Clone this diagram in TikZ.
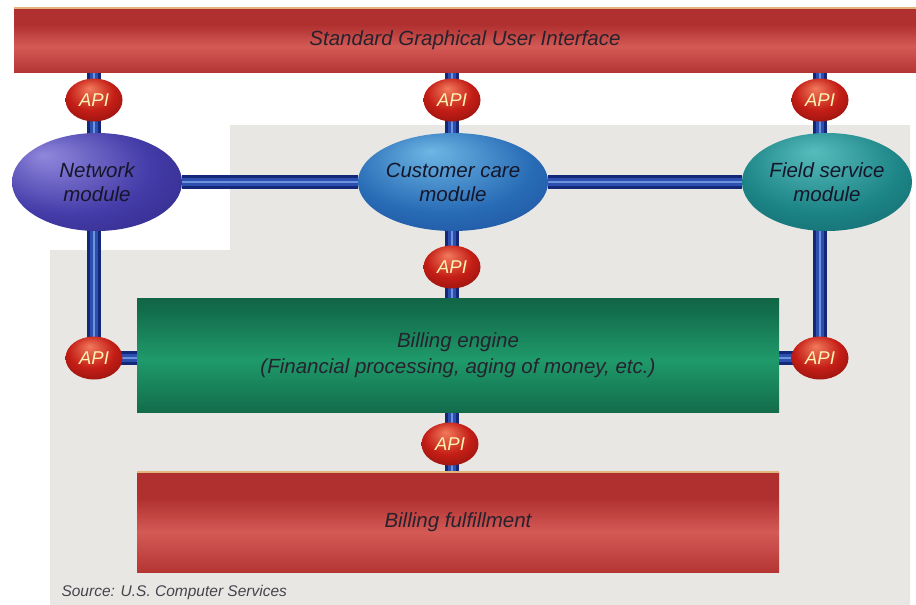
\documentclass[tikz,border=0pt]{standalone}
\usepackage{fontspec}
\setmainfont{Liberation Sans}
\usetikzlibrary{shapes.geometric,shadings}

% palette
\definecolor{paper}{HTML}{E9E7E4}
\definecolor{tubeDark}{HTML}{861C1C}
\definecolor{tubeMid}{HTML}{B0302F}
\definecolor{tubeLight}{HTML}{D45A56}
\definecolor{rim}{HTML}{E2B57A}
\definecolor{engDark}{HTML}{0A4A2E}
\definecolor{engMid}{HTML}{126C4C}
\definecolor{engLight}{HTML}{1F9A6A}
\definecolor{pipeDark}{HTML}{14287A}
\definecolor{pipeMid}{HTML}{2C4FB0}
\definecolor{pipeLite}{HTML}{6D93DC}
\definecolor{netLite}{HTML}{9088DC}
\definecolor{netBase}{HTML}{443CA8}
\definecolor{netDark}{HTML}{221C70}
\definecolor{custLite}{HTML}{6EB6E4}
\definecolor{custBase}{HTML}{286CB6}
\definecolor{custDark}{HTML}{18388A}
\definecolor{fieldLite}{HTML}{58BCBC}
\definecolor{fieldBase}{HTML}{1C8486}
\definecolor{fieldDark}{HTML}{0D5058}
\definecolor{apiLite}{HTML}{F27A5C}
\definecolor{apiBase}{HTML}{C41E16}
\definecolor{apiDark}{HTML}{6A0A08}
\definecolor{apiText}{HTML}{FFF4B0}
\definecolor{ink}{HTML}{26222E}
\definecolor{ovalInk}{HTML}{16162A}

% cylinder-like shadings
\pgfdeclareverticalshading{redtube}{100bp}{color(0bp)=(tubeDark); color(22bp)=(tubeMid); color(45bp)=(tubeLight); color(62bp)=(tubeMid); color(88bp)=(tubeMid); color(100bp)=(tubeDark)}
\pgfdeclareverticalshading{greentube}{100bp}{color(0bp)=(engDark); color(25bp)=(engMid); color(48bp)=(engLight); color(70bp)=(engMid); color(100bp)=(engDark)}
\pgfdeclareradialshading{netshade}{\pgfpoint{-16bp}{14bp}}{color(0bp)=(netLite); color(24bp)=(netBase); color(52bp)=(netDark)}
\pgfdeclareradialshading{custshade}{\pgfpoint{-6bp}{16bp}}{color(0bp)=(custLite); color(24bp)=(custBase); color(52bp)=(custDark)}
\pgfdeclareradialshading{fieldshade}{\pgfpoint{-4bp}{16bp}}{color(0bp)=(fieldLite); color(24bp)=(fieldBase); color(52bp)=(fieldDark)}
\pgfdeclareradialshading{apishade}{\pgfpoint{-4bp}{14bp}}{color(0bp)=(apiLite); color(20bp)=(apiBase); color(46bp)=(apiDark)}

\pgfdeclarelayer{back}
\pgfdeclarelayer{pipes}
\pgfsetlayers{back,pipes,main}

\tikzset{
  labelfont/.style={font=\fontsize{20.5}{24}\selectfont\itshape},
  redbar/.style={rectangle, shading=redtube, inner sep=0pt, text=ink, labelfont},
  greenbar/.style={rectangle, shading=greentube, inner sep=0pt, text=ink, align=center,
    font=\fontsize{20.5}{26}\selectfont\itshape},
  oval/.style={ellipse, minimum width=170pt, minimum height=98pt, inner sep=0pt,
    align=center, text=ovalInk, labelfont},
  api/.style={ellipse, shading=apishade, minimum width=57pt, minimum height=43pt,
    inner sep=0pt, text=apiText, font=\fontsize{18.5}{20}\selectfont\itshape},
  pipe/.style={line width=14pt, draw=pipeDark,
    postaction={draw=pipeMid, line width=8.5pt},
    postaction={draw=pipeLite, line width=2.5pt}},
  rimline/.style={draw=rim, line width=1.5pt},
  source/.style={anchor=west, text=ink!85, font=\fontsize{15.5}{18}\selectfont\itshape}
}

\begin{document}
\begin{tikzpicture}[x=1pt, y=-1pt]
  \useasboundingbox (0,0) rectangle (916,605);

  % paper panel behind the lower part
  \begin{pgfonlayer}{back}
    \fill[white] (0,0) rectangle (916,605);
    \fill[paper] (50,250) -- (230,250) -- (230,125) -- (910,125) -- (910,605) -- (50,605) -- cycle;
  \end{pgfonlayer}

  % interface bar
  \node[redbar, minimum width=902pt, minimum height=64pt] (gui) at (465,40) {Standard Graphical User Interface};
  \draw[rimline] (gui.north west) -- (gui.north east);

  % upper API joints
  \node[api] (a1) at (94,100) {API};
  \node[api] (a2) at (452,100) {API};
  \node[api] (a3) at (820,100) {API};

  % modules
  \node[oval, shading=netshade] (net) at (97,182) {Network\\module};
  \node[oval, shading=custshade] (cust) at (453,182) {Customer care\\module};
  \node[oval, shading=fieldshade] (field) at (827,182) {Field service\\module};

  % billing engine and its joints
  \node[api] (a5) at (452,267) {API};
  \node[greenbar, minimum width=642pt, minimum height=114pt] (eng) at (458,355)
    {Billing engine\\(Financial processing, aging of money, etc.)};
  \node[api] (a4) at (94,358) {API};
  \node[api] (a7) at (820,358) {API};
  \node[api] (a6) at (450,444) {API};

  % fulfillment bar
  \node[redbar, minimum width=642pt, minimum height=100pt] (ful) at (458,522) {Billing fulfillment};
  \draw[rimline] (ful.north west) -- (ful.north east);

  \node[source] (src) at (58,592) {Source: U.S. Computer Services};

  % blue pipes
  \begin{pgfonlayer}{pipes}
    \draw[pipe] (gui.south -| a1) -- (a4.center) -- (a4 -| eng.west);
    \draw[pipe] (gui.south -| a2) -- (ful.north -| a2);
    \draw[pipe] (gui.south -| a3) -- (a7.center) -- (a7 -| eng.east);
    \draw[pipe] (net.east) -- (cust.west);
    \draw[pipe] (cust.east) -- (field.west);
  \end{pgfonlayer}
\end{tikzpicture}
\end{document}
